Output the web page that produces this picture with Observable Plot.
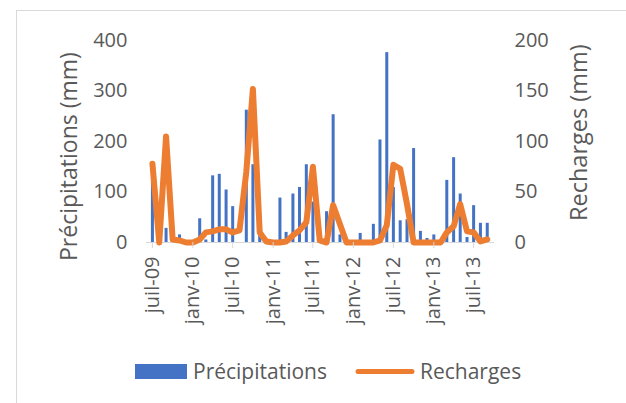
<!DOCTYPE html>
<html>
<head>
<meta charset="utf-8">
<script src="https://cdn.jsdelivr.net/npm/d3@7"></script>
<script src="https://cdn.jsdelivr.net/npm/@observablehq/plot@0.6"></script>
<style>
  html, body { margin: 0; padding: 0; background: #fff; }
  #wrap { position: relative; width: 626px; height: 403px; overflow: hidden; font-family: "Open Sans", sans-serif; color: #595959; }
  #border { position: absolute; left: 16px; top: 10px; width: 620px; height: 420px; border: 1px solid #d9d9d9; box-sizing: border-box; }
  #chart { position: absolute; left: 0; top: 0; }
  .ytitle { position: absolute; white-space: nowrap; font-size: 23px; line-height: 30px; transform-origin: 0 0; }
  .legend { position: absolute; font-size: 21px; white-space: nowrap; }
</style>
</head>
<body>
<div id="wrap">
  <div id="border"></div>
  <div id="chart"></div>
  <div class="ytitle" id="lt" style="left:53px; top:261px; transform: rotate(-90deg);">Précipitations (mm)</div>
  <div class="ytitle" id="rt" style="left:563px; top:221px; transform: rotate(-90deg); font-size:23.5px;">Recharges (mm)</div>
  <div class="legend" style="left:135px; top:364px; width:52px; height:15px; background:#4472C4;"></div>
  <div class="legend" style="left:193px; top:356px; line-height:30px;">Précipitations</div>
  <svg class="legend" style="left:350px; top:362px;" width="70" height="20"><line x1="8" y1="9.5" x2="62" y2="9.5" stroke="#ED7D31" stroke-width="5" stroke-linecap="round"/></svg>
  <div class="legend" style="left:420px; top:356px; line-height:30px;">Recharges</div>
</div>
<script>
// Monthly series from juil-09 to sept-13 (51 months)
const startMonth = new Date(Date.UTC(2009, 6, 1));
const months = d3.utcMonth.range(startMonth, new Date(Date.UTC(2013, 9, 1)));

const precipitations = [
  130, 0, 28, 0, 15, 0, 0, 47, 5, 132, 135, 104,
  71, 0, 262, 154, 15, 0, 0, 88, 20, 96, 109, 154,
  80, 0, 61, 253, 15, 0, 0, 18, 0, 36, 203, 376,
  109, 43, 45, 186, 22, 8, 15, 0, 123, 168, 96, 10,
  73, 38, 38
];
const recharges = [
  78, 0, 105, 3, 2, 0, 0, 3, 10, 11, 13, 13,
  10, 12, 70, 152, 10, 1, 0, 0, 1, 7, 12, 20,
  75, 2, 0, 37, 18, 0, 0, 0, 0, 0, 2, 17,
  77, 73, 38, 0, 0, 0, 0, 0, 10, 16, 38, 11,
  10, 1, 3
];

const leftTicks = [0, 100, 200, 300, 400];
const rightTicks = [0, 50, 100, 150, 200];
const xTickLabels = ["juil-09", "janv-10", "juil-10", "janv-11", "juil-11", "janv-12", "juil-12", "janv-13", "juil-13"];
const xTickDates = xTickLabels.map((_, i) => d3.utcMonth.offset(startMonth, 6 * i));
const labelByTime = new Map(xTickDates.map((d, i) => [+d, xTickLabels[i]]));

const data = months.map((m, i) => ({ date: m, p: precipitations[i], r: recharges[i] }));
const ratio = 2; // right axis max 200 maps onto left axis max 400

const chart = Plot.plot({
  width: 626,
  height: 345,
  marginTop: 40,
  marginBottom: 103,
  marginLeft: 146,
  marginRight: 132,
  style: { fontFamily: "Open Sans, sans-serif", fontSize: "20px", color: "#595959", background: "transparent" },
  x: { type: "utc", domain: [new Date(Date.UTC(2009, 5, 4)), new Date(Date.UTC(2013, 9, 4))] },
  y: { domain: [0, 400] },
  marks: [
    Plot.ruleX(data, { x: "date", y1: 0, y2: "p", stroke: "#4472C4", strokeWidth: 3 }),
    Plot.ruleY([0], { stroke: "#d9d9d9", strokeWidth: 1 }),
    Plot.line(data, { x: "date", y: d => d.r * ratio, stroke: "#ED7D31", strokeWidth: 6, strokeLinejoin: "round", strokeLinecap: "round" }),
    Plot.axisY({ anchor: "left", ticks: leftTicks, tickSize: 0, tickPadding: 19, label: null, fill: "#595959" }),
    Plot.axisY({ anchor: "right", ticks: rightTicks.map(v => v * ratio), tickFormat: d => String(d / ratio), tickSize: 0, tickPadding: 20, label: null, fill: "#595959" }),
    Plot.axisX({ ticks: xTickDates, tickFormat: d => labelByTime.get(+d), tickRotate: -90, tickSize: 6, tickPadding: 8, stroke: "#d9d9d9", fill: "#595959", label: null })
  ]
});
document.getElementById("chart").appendChild(chart);
</script>
</body>
</html>
